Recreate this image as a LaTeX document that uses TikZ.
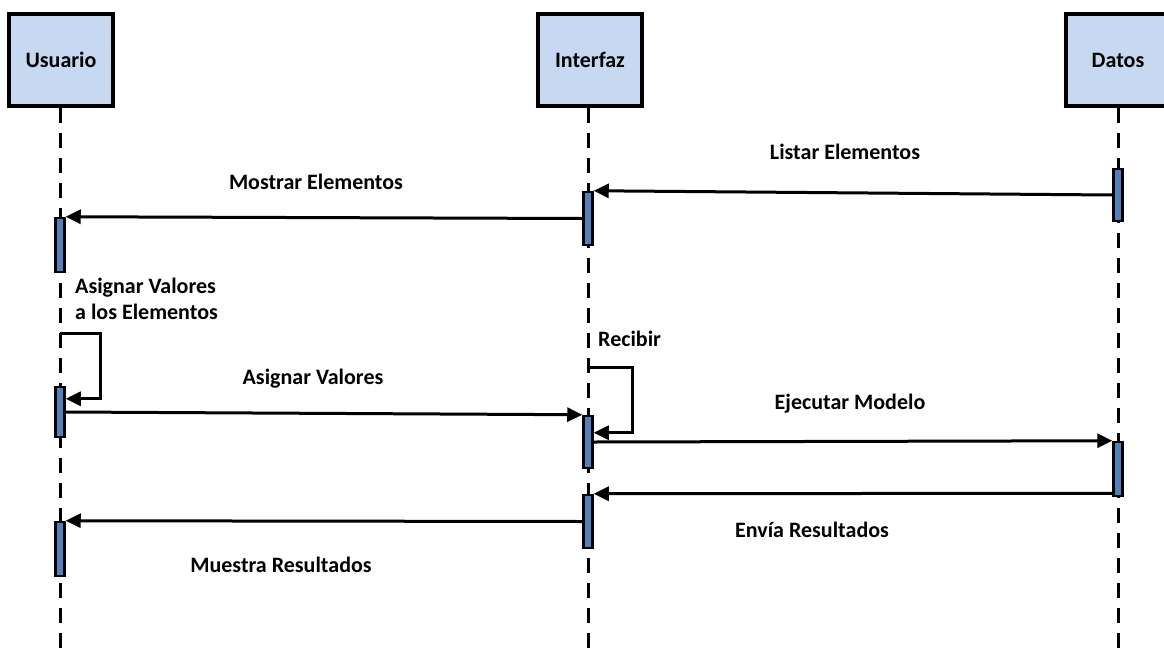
\documentclass[tikz,border=0pt]{standalone}
\usepackage{fontspec}
\setmainfont{Carlito}
\usetikzlibrary{arrows.meta, positioning}
\definecolor{chead}{HTML}{C6D9F1}
\definecolor{cbar}{HTML}{4F81BD}
\definecolor{cline}{HTML}{000000}
\tikzset{
  every picture/.style={x=1pt, y=1pt, font=\fontsize{22}{26}\selectfont\bfseries},
  head/.style={draw=cline, fill=chead, line width=3.5pt, minimum width=104, minimum height=92},
  bar/.style={draw=cline, fill=cbar, line width=2.5pt, minimum width=9, minimum height=#1, inner sep=0pt},
  bar/.default=54,
  life/.style={draw=cline, line width=3pt, dash pattern=on 15pt off 10pt},
  msg/.style={-{Triangle[length=15pt, width=14pt]}, draw=cline, line width=3pt},
  lbl/.style={inner sep=0pt, anchor=base},
}

\begin{document}
\begin{tikzpicture}
  \useasboundingbox (0,0) rectangle (1164,-648);
  \clip (0,0) rectangle (1164,-648);
  % ---- lifeline heads ----
  \node[head] (usr) at (61,-60) {Usuario};
  \node[head] (itf) at (590,-60) {Interfaz};
  \node[head] (dat) at (1118,-60) {Datos};
  % lifelines
  \coordinate (usrend) at (60,-660);
  \coordinate (itfend) at (588,-660);
  \coordinate (datend) at (1118,-660);
  \draw[life] (usr.south -| usrend) -- (usrend);
  \draw[life] (itf.south -| itfend) -- (itfend);
  \draw[life] (dat.south -| datend) -- (datend);
  % ---- activation bars ----
  \node[bar] (u1) at (60,-245) {};
  \node[bar=50] (u2) at (60,-412) {};
  \node[bar] (u3) at (60,-549) {};
  \node[bar=53] (i1) at (588,-218.5) {};
  \node[bar=52] (i2) at (588,-442) {};
  \node[bar=53] (i3) at (588,-521.5) {};
  \node[bar=52] (d1) at (1118,-195) {};
  \node[bar] (d2) at (1118,-469) {};
  % ---- messages ----
  \draw[msg] (d1.west) -- (i1.north east);
  \node[lbl] (listar) at (845,-159) {Listar Elementos};
  \draw[msg] (i1.west) -- (u1.north east);
  \node[lbl] (mostrar) at (316,-189) {Mostrar Elementos};
  % self call on Usuario
  \coordinate (uloop) at (60,-333);
  \draw[msg] (uloop) -- ++(40,0) |- ([yshift=-13pt]u2.north east);
  \node[lbl, anchor=base west, align=left] (asigelem) at (75,-319) {Asignar Valores\\a los Elementos};
  \draw[msg] (u2.east) -- (i2.north west);
  \node[lbl] (asignar) at (313,-384) {Asignar Valores};
  % self call on Interfaz
  \coordinate (iloop) at (588,-367);
  \draw[msg] (iloop) -- ++(44,0) |- ([yshift=-18pt]i2.north east);
  \node[lbl, anchor=base west] (recibir) at (598,-346) {Recibir};
  \draw[msg] (i2.east) -- (d2.north west);
  \node[lbl] (ejecutar) at (850,-409) {Ejecutar Modelo};
  \draw[msg] ([yshift=4pt]d2.south west) -- (i3.north east);
  \node[lbl] (envia) at (812,-537) {Envía Resultados};
  \draw[msg] (i3.west) -- (u3.north east);
  \node[lbl] (muestra) at (281,-572) {Muestra Resultados};
\end{tikzpicture}
\end{document}
